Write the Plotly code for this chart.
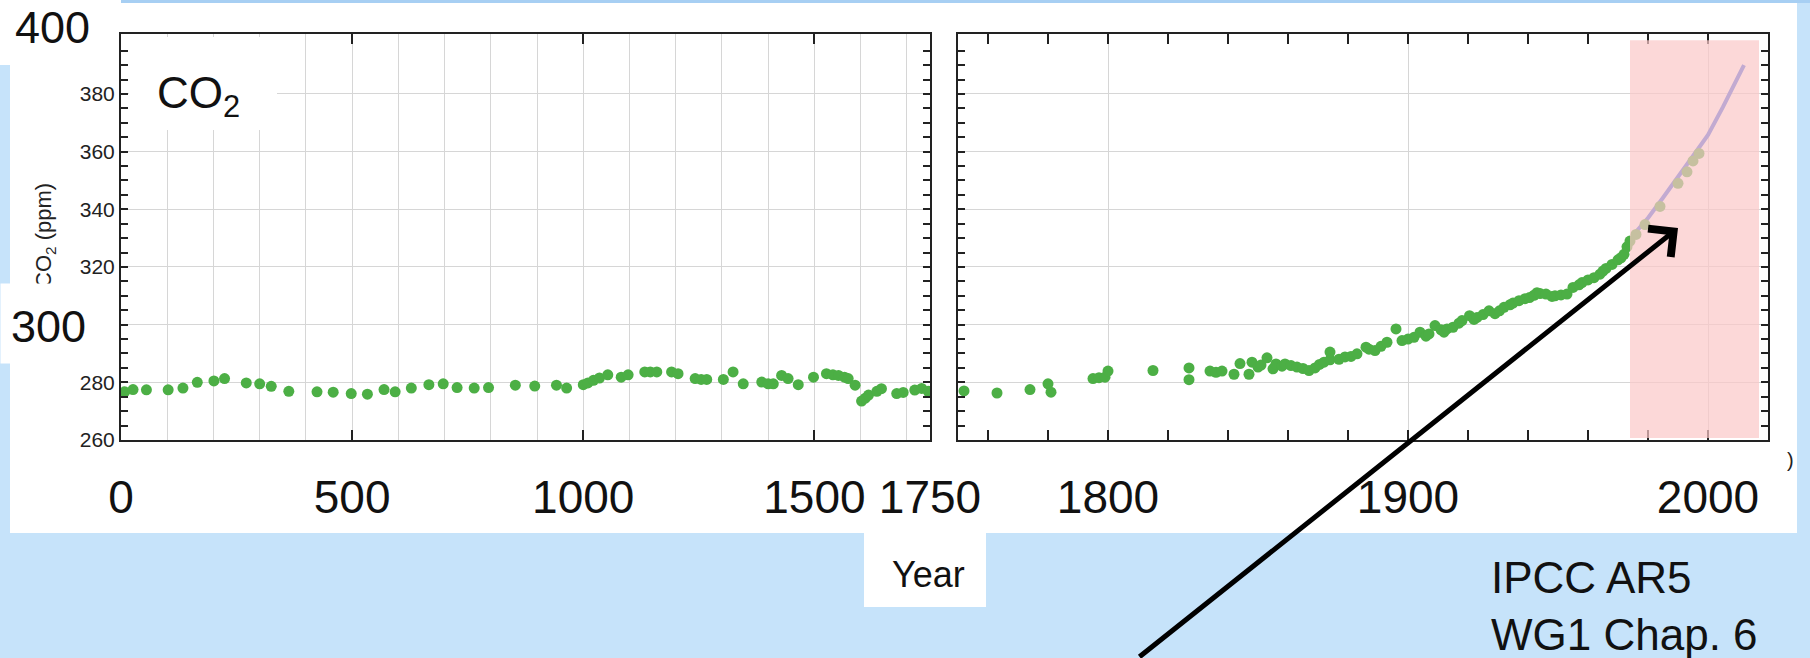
import plotly.graph_objects as go

W, H = 1810, 658

# ---------------- data ----------------
# Ice-core CO2, years 0-1750 (left panel)
early_year = [8, 26, 55, 102, 134, 165, 201, 224, 271, 300, 325, 363, 424, 459, 498, 533,
              569, 593, 628, 666, 697, 727, 764, 795, 853, 895, 942, 964, 1000, 1010, 1022,
              1035, 1053, 1082, 1097, 1133, 1145, 1159, 1191, 1205, 1242, 1255, 1267, 1303,
              1324, 1346, 1386, 1400, 1411, 1429, 1443, 1465, 1498, 1526, 1540, 1552, 1565,
              1573, 1588, 1602, 1610, 1617, 1635, 1645, 1678, 1692, 1717, 1732, 1746]
early_co2 = [276.7, 277.5, 277.4, 277.4, 278.0, 280.0, 280.5, 281.3, 279.8, 279.5, 278.6,
             276.9, 276.7, 276.6, 276.1, 275.9, 277.5, 276.7, 278.0, 279.2, 279.5, 278.2,
             278.0, 278.2, 279.0, 278.7, 279.0, 278.0, 279.2, 279.8, 280.7, 281.5, 282.6,
             281.8, 282.6, 283.6, 283.6, 283.6, 283.6, 283.0, 281.3, 281.0, 281.0, 281.0,
             283.6, 279.5, 280.1, 279.5, 279.5, 282.4, 281.3, 279.2, 281.8, 283.0, 282.6,
             282.4, 281.8, 281.3, 279.0, 273.5, 274.5, 275.6, 276.9, 277.8, 276.1, 276.5,
             277.3, 277.9, 276.9]

# Ice-core / firn CO2, years 1750-2000 (right panel)
late_year = [1752, 1763, 1774, 1780, 1781, 1795, 1797, 1799, 1800, 1815, 1827, 1827, 1834,
             1836, 1838, 1842, 1844, 1847, 1848, 1850, 1851, 1853, 1855, 1856, 1858, 1859,
             1861, 1863, 1865, 1867, 1869, 1870.5, 1872, 1874, 1874, 1877, 1879, 1881, 1883,
             1886, 1887, 1889, 1891, 1893, 1896, 1898, 1900, 1902, 1904, 1906, 1907, 1909,
             1911, 1912, 1913, 1915, 1917, 1918, 1920.5, 1922, 1923, 1925, 1927, 1929,
             1930.5, 1932, 1934, 1935, 1937, 1939, 1940.5, 1942, 1943, 1944, 1946, 1948,
             1949, 1951, 1953, 1955, 1957, 1958, 1960, 1962, 1964, 1965, 1966, 1968, 1970,
             1971, 1972, 1973, 1974, 1976, 1979, 1984, 1990, 1993, 1995, 1997]
late_co2 = [277.0, 276.3, 277.5, 279.5, 276.6, 281.3, 281.6, 281.8, 283.9, 284.1, 285.0,
            280.9, 283.9, 283.5, 283.9, 282.8, 286.5, 282.8, 287.0, 285.3, 286.0, 288.5,
            284.7, 286.4, 285.6, 286.4, 285.8, 285.3, 284.8, 284.1, 285.0, 286.2, 287.0,
            287.8, 290.5, 288.0, 288.8, 289.0, 289.9, 292.2, 291.5, 291.0, 292.5, 293.9,
            298.5, 294.5, 295.0, 295.6, 297.4, 296.0, 296.8, 299.7, 298.2, 297.4, 298.5,
            299.1, 300.5, 301.4, 303.1, 301.8, 302.5, 303.5, 304.8, 303.8, 304.8, 306.0,
            306.9, 307.5, 308.3, 309.0, 309.4, 310.2, 311.1, 310.8, 310.6, 309.8, 310.0,
            310.3, 310.6, 312.9, 313.8, 314.6, 315.5, 316.3, 317.5, 318.6, 319.5, 320.9,
            322.5, 323.2, 324.4, 327.0, 329.0, 331.3, 334.7, 341.0, 349.0, 353.0, 356.8,
            359.4]

# Atmospheric record (line)
ml_year = [1975, 1980, 1985, 1990, 1995, 2000, 2005, 2012]
ml_co2 = [331.0, 337.0, 344.0, 351.5, 358.5, 365.8, 375.5, 390.0]

left_tick_years = [0, 500, 1000, 1500, 1750]
right_label_years = [1800, 1900, 2000]
y_label_vals = [260, 280, 320, 340, 360, 380]
y_grid_vals = [280, 300, 320, 340, 360, 380]
shade_years = [1974, 2017]

# ---------------- styling ----------------
FONT = "Liberation Sans, Arial, sans-serif"
GREEN = "#4caf45"
BLUE = "#3c64e6"
BG_BLUE = "#c6e3fa"
GRID = "#d6d6d6"


def fx(p):
    return p / W


def fy(p):
    return 1 - p / H


fig = go.Figure()
fig.add_trace(go.Scatter(x=early_year, y=early_co2, mode="markers",
                         marker=dict(color=GREEN, size=11), xaxis="x", yaxis="y",
                         showlegend=False, hoverinfo="skip"))
fig.add_trace(go.Scatter(x=ml_year, y=ml_co2, mode="lines",
                         line=dict(color=BLUE, width=4), xaxis="x2", yaxis="y2",
                         showlegend=False, hoverinfo="skip"))
fig.add_trace(go.Scatter(x=late_year, y=late_co2, mode="markers",
                         marker=dict(color=GREEN, size=11), xaxis="x2", yaxis="y2",
                         showlegend=False, hoverinfo="skip"))

ymaj = list(range(260, 400, 5))
ytext = [str(v) if v in y_label_vals else "" for v in ymaj]

common_y = dict(range=[260, 400.8], tickmode="array", tickvals=ymaj, ticktext=ytext,
                ticks="inside", ticklen=7, tickwidth=1.6, tickcolor="#222",
                showline=True, linecolor="#222", linewidth=2, mirror="allticks",
                showgrid=False, zeroline=False, automargin=False,
                minor=dict(tickmode="array", tickvals=y_grid_vals, ticks="",
                           showgrid=True, gridcolor=GRID, gridwidth=1),
                tickfont=dict(family=FONT, size=21, color="#222"))

r_major = list(range(1760, 2021, 20))
r_text = [str(v) if v in right_label_years else "" for v in r_major]

common_x = dict(ticks="inside", ticklen=10, tickwidth=2, tickcolor="#222",
                showline=True, linecolor="#222", linewidth=2, mirror="allticks",
                showgrid=False, zeroline=False, ticklabelstandoff=16, automargin=False,
                tickfont=dict(family=FONT, size=46, color="#111"))

fig.update_layout(
    width=W, height=H, autosize=False,
    margin=dict(l=0, r=0, t=0, b=0, pad=0),
    paper_bgcolor=BG_BLUE, plot_bgcolor="white", showlegend=False,
    xaxis=dict(domain=[fx(121), fx(930)], range=[0, 1750], anchor="y",
               tickmode="array", tickvals=left_tick_years,
               ticktext=[str(v) for v in left_tick_years],
               minor=dict(dtick=100, tick0=0, ticks="", showgrid=True,
                          gridcolor=GRID, gridwidth=1),
               **common_x),
    yaxis=dict(domain=[fy(440), fy(34)], anchor="x", **common_y),
    xaxis2=dict(domain=[fx(958), fx(1768)], range=[1750, 2020], anchor="y2",
                tickmode="array", tickvals=r_major, ticktext=r_text,
                minor=dict(tickmode="array", tickvals=right_label_years, ticks="",
                           showgrid=True, gridcolor=GRID, gridwidth=1),
                **common_x),
    yaxis2=dict(domain=[fy(440), fy(34)], anchor="x2", showticklabels=False, **common_y),
)


def prect(x0, y0, x1, y1, color, layer="below"):
    return dict(type="rect", xref="paper", yref="paper", x0=fx(x0), x1=fx(x1),
                y0=fy(y1), y1=fy(y0), fillcolor=color, line=dict(width=0), layer=layer)


shapes = [
    prect(10, 3, 1797, 533, "white"),
    prect(121, 0, 1810, 3, "#a7cff3"),
    prect(0, 0, 121, 65, "white"),
    prect(129, 37, 277, 130, "white", layer="above"),
    prect(864, 533, 986, 607, "white", layer="above"),
    dict(type="rect", xref="x2", yref="y2", x0=shade_years[0], x1=shade_years[1],
         y0=260.7, y1=398.6, fillcolor="rgba(251,199,199,0.7)", line=dict(width=0),
         layer="above"),
]
fig.update_layout(shapes=shapes)

ann = []
# y-axis title (partly hidden by the "300" box below it)
ann.append(dict(text="CO<sub>2</sub> (ppm)", xref="paper", yref="paper", x=fx(45), y=fy(236),
                textangle=-90, showarrow=False, font=dict(family=FONT, size=22, color="#222"),
                xanchor="center", yanchor="middle"))
# white box behind big 300
ann.append(dict(text=" ", xref="paper", yref="paper", x=fx(0), y=fy(283), xanchor="left",
                yanchor="top", width=110, height=79, bgcolor="white", borderpad=0,
                showarrow=False, font=dict(size=10)))
ann.append(dict(text="300", xref="paper", yref="paper", x=fx(48), y=fy(326),
                showarrow=False, font=dict(family=FONT, size=45, color="#111"),
                xanchor="center", yanchor="middle"))
ann.append(dict(text="400", xref="paper", yref="paper", x=fx(52), y=fy(28),
                showarrow=False, font=dict(family=FONT, size=45, color="#111"),
                xanchor="center", yanchor="middle"))
ann.append(dict(text="CO<sub>2</sub>", xref="paper", yref="paper", x=fx(198), y=fy(96),
                showarrow=False, font=dict(family=FONT, size=44, color="#111"),
                xanchor="center", yanchor="middle"))
ann.append(dict(text="Year", xref="paper", yref="paper", x=fx(928), y=fy(574),
                showarrow=False, font=dict(family=FONT, size=36, color="#111"),
                xanchor="center", yanchor="middle"))
ann.append(dict(text="IPCC AR5", xref="paper", yref="paper", x=fx(1489), y=fy(577),
                showarrow=False, font=dict(family=FONT, size=44, color="#111"),
                xanchor="left", yanchor="middle"))
ann.append(dict(text="WG1 Chap. 6", xref="paper", yref="paper", x=fx(1489), y=fy(634),
                showarrow=False, font=dict(family=FONT, size=44, color="#111"),
                xanchor="left", yanchor="middle"))
ann.append(dict(text=")", xref="paper", yref="paper", x=fx(1790), y=fy(460),
                showarrow=False, font=dict(family=FONT, size=20, color="#222"),
                xanchor="center", yanchor="middle"))
ann.append(dict(text="", xref="paper", yref="paper", x=fx(1678), y=fy(228),
                showarrow=True, ax=-540, ay=430, axref="pixel", ayref="pixel",
                arrowhead=4, arrowsize=1.4, arrowwidth=5, arrowcolor="black", standoff=0))
fig.update_layout(annotations=ann)

fig.write_html("out.html", config={"responsive": False, "displayModeBar": False},
               post_script="document.body.style.margin='0';"
                           "document.documentElement.style.overflow='hidden';")
